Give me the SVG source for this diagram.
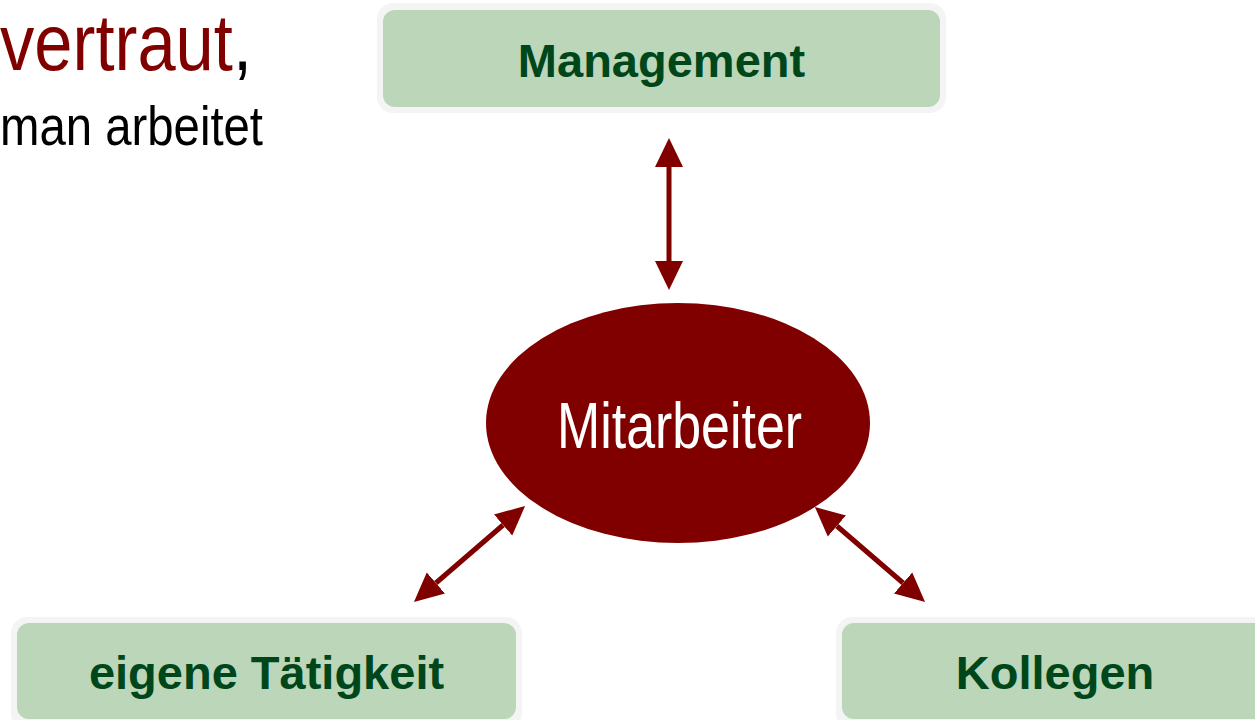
<svg xmlns="http://www.w3.org/2000/svg" width="1255" height="720" viewBox="0 0 1255 720">
  <style>
    .outer { fill: #f4f4f4; }
    .inner { fill: #bbd6b8; }
    .label { font-family: "Liberation Sans", Arial, sans-serif; font-weight: bold; font-size: 47px; fill: #00461b; text-anchor: middle; }
    .conn { stroke: #800000; stroke-width: 5; fill: none; }
    .head { fill: #800000; }
    .body { font-family: "Liberation Sans", Arial, sans-serif; }
  </style>
  <defs>
    <marker id="ah" markerUnits="userSpaceOnUse" markerWidth="30" markerHeight="30" viewBox="0 0 30 28" refX="0" refY="14" orient="auto-start-reverse">
      <path class="head" d="M0,0 L29,14 L0,28 Z"/>
    </marker>
  </defs>
  <rect width="1255" height="720" fill="#ffffff"/>

  <g id="heading">
    <text class="body" x="0" y="70" font-size="79" fill="#800000" textLength="252" lengthAdjust="spacingAndGlyphs">vertraut<tspan fill="#000000">,</tspan></text>
    <text class="body" x="0" y="145" font-size="55" fill="#000000" textLength="263" lengthAdjust="spacingAndGlyphs">man arbeitet</text>
  </g>

  <g id="management">
    <rect class="outer" x="377" y="3" width="569" height="110" rx="16"/>
    <rect class="inner" x="383" y="10" width="557" height="97" rx="12"/>
    <text class="label" x="661.5" y="77">Management</text>
  </g>

  <g id="mitarbeiter">
    <ellipse cx="678" cy="423" rx="192" ry="120" fill="#800000"/>
    <text class="body" x="557" y="448" font-size="64" fill="#ffffff" textLength="245" lengthAdjust="spacingAndGlyphs">Mitarbeiter</text>
  </g>

  <g id="eigene-taetigkeit">
    <rect class="outer" x="11" y="617" width="511" height="112" rx="16"/>
    <rect class="inner" x="17" y="623" width="499" height="96" rx="12"/>
    <text class="label" x="266.5" y="689">eigene Tätigkeit</text>
  </g>

  <g id="kollegen">
    <rect class="outer" x="836" y="617" width="440" height="112" rx="16"/>
    <rect class="inner" x="842" y="623" width="430" height="96" rx="12"/>
    <text class="label" x="1055" y="689">Kollegen</text>
  </g>

  <g id="connectors">
    <line class="conn" x1="669" y1="167" x2="669" y2="261" marker-start="url(#ah)" marker-end="url(#ah)"/>
    <line class="conn" x1="435.9" y1="583" x2="503.1" y2="525" marker-start="url(#ah)" marker-end="url(#ah)"/>
    <line class="conn" x1="836.9" y1="526" x2="903.1" y2="583" marker-start="url(#ah)" marker-end="url(#ah)"/>
  </g>
</svg>
